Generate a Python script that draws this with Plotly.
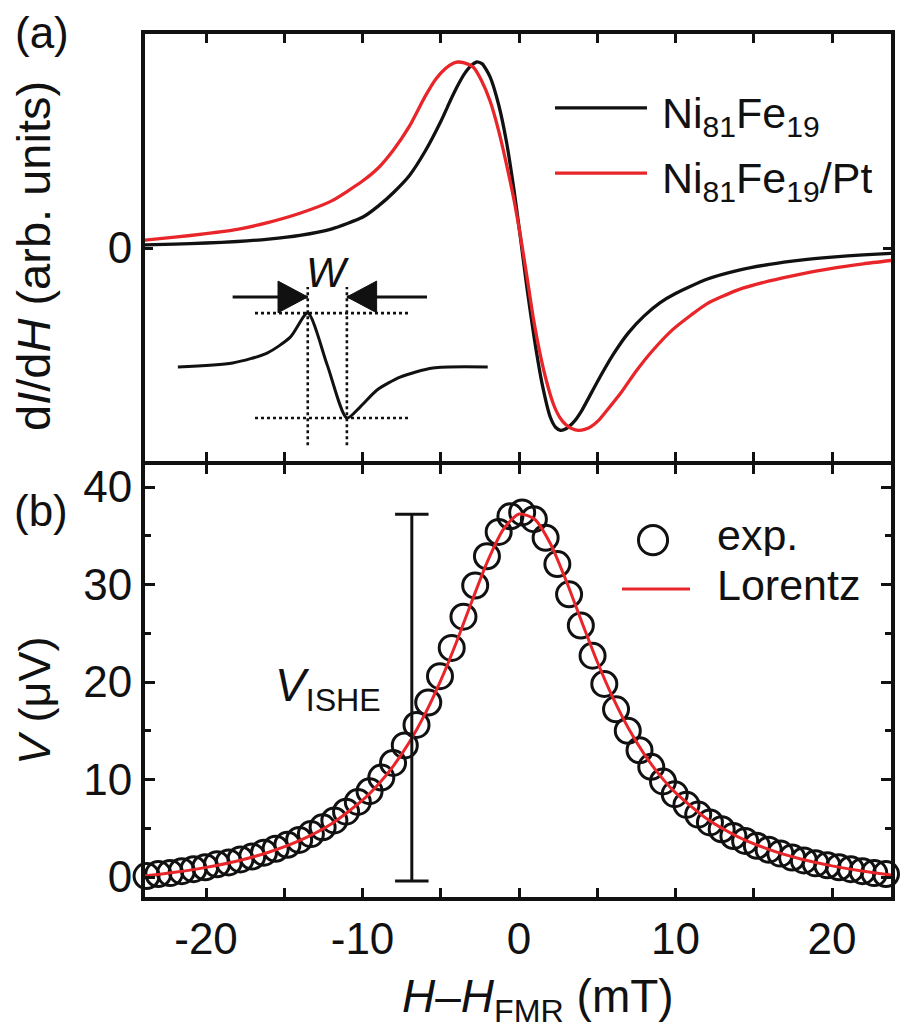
import plotly.graph_objects as go

# ---------------- data ----------------
# (a) FMR derivative spectra: field offset (mT) vs dI/dH (arb. units, peak = 1)
nife_h = [-24, -22, -20, -18, -16, -14, -12, -10, -9, -8, -7, -6, -5, -4.4, -4, -3.5,
          -3.0, -2.7, -2.35, -1.85, -1.3, -0.8, -0.3, 0.1, 0.5, 1.0, 1.5, 2.0, 2.35, 2.65,
          3.0, 3.5, 4.0, 5.0, 6.0, 7.0, 8.0, 9.0, 10.0, 12.0, 14.0, 16.0, 18.0, 20.0, 22.0, 24.0]
nife_di = [0.017, 0.021, 0.027, 0.035, 0.048, 0.068, 0.102, 0.165, 0.225, 0.30, 0.39, 0.52,
           0.68, 0.79, 0.86, 0.935, 0.985, 1.0, 0.99, 0.92, 0.77, 0.57, 0.30, 0.05, -0.21,
           -0.50, -0.74, -0.91, -0.965, -0.98, -0.972, -0.935, -0.875, -0.72, -0.575, -0.455,
           -0.365, -0.295, -0.245, -0.168, -0.12, -0.088, -0.065, -0.049, -0.037, -0.028]

nifept_h = [-24, -22, -20, -18, -16, -14, -12, -10, -9, -8, -7, -6, -5.3, -4.7, -4.2, -3.9,
            -3.5, -2.9, -2.4, -1.85, -1.3, -0.76, -0.3, 0.1, 0.5, 0.9, 1.35, 1.8, 2.2, 2.6,
            3.0, 3.4, 3.8, 4.2, 4.6, 5.1, 5.6, 6.5, 7.5, 8.5, 9.8, 11.0, 12.0, 14.0, 16.0,
            18.0, 20.0, 22.0, 24.0]
nifept_di = [0.042, 0.058, 0.077, 0.10, 0.138, 0.187, 0.252, 0.36, 0.43, 0.53, 0.655, 0.815,
             0.91, 0.965, 0.993, 1.0, 0.995, 0.97, 0.90, 0.79, 0.63, 0.435, 0.25, 0.06, -0.15,
             -0.37, -0.57, -0.73, -0.84, -0.91, -0.95, -0.972, -0.98, -0.975, -0.96, -0.925,
             -0.875, -0.78, -0.66, -0.555, -0.44, -0.36, -0.30, -0.225, -0.177, -0.14, -0.109,
             -0.085, -0.065]

# schematic line shape drawn inside panel (a)
sketch_h = [-21.8, -18.3, -16.1, -14.6, -13.5, -12.25, -11.0, -10.16, -9.07, -7.6, -5.5, -2.0]
sketch_di = [-0.64, -0.618, -0.565, -0.478, -0.35, -0.63, -0.914, -0.855, -0.763, -0.694,
             -0.645, -0.64]

# (b) ISHE voltage: measured points and Lorentz fit (µV)
exp_h = [-23.8, -23.05, -22.3, -21.55, -20.8, -20.05, -19.3, -18.55, -17.8, -17.05, -16.3,
         -15.55, -14.8, -14.05, -13.3, -12.55, -11.8, -11.05, -10.3, -9.55, -8.8, -8.05,
         -7.3, -6.55, -5.8, -5.05, -4.3, -3.55, -2.8, -2.05, -1.3, -0.55, 0.2, 0.95, 1.7,
         2.45, 3.2, 3.95, 4.7, 5.45, 6.2, 6.95, 7.7, 8.45, 9.2, 9.95, 10.7, 11.45, 12.2,
         12.95, 13.7, 14.45, 15.2, 15.95, 16.7, 17.45, 18.2, 18.95, 19.7, 20.45, 21.2,
         21.95, 22.7, 23.45, 24.2]
exp_v = [0.1, 0.3, 0.4, 0.6, 0.8, 1.0, 1.3, 1.5, 1.8, 2.1, 2.5,
         2.9, 3.3, 3.8, 4.4, 5.1, 5.8, 6.7, 7.7, 8.8, 10.2, 11.7,
         13.5, 15.6, 17.9, 20.6, 23.5, 26.7, 29.9, 32.9, 35.4, 37.0, 37.4, 36.7, 34.8,
         32.1, 29.0, 25.8, 22.7, 19.8, 17.2, 15.0, 13.0, 11.3, 9.8, 8.5, 7.4, 6.4, 5.6,
         4.9, 4.2, 3.7, 3.2, 2.8, 2.4, 2.0, 1.7, 1.4, 1.2, 1.0, 0.8,
         0.6, 0.4, 0.3, 0.1]

fit_h = [-24, -22, -20, -18, -16, -14, -12, -10, -9, -8, -7, -6, -5, -4, -3, -2, -1,
         0, 1, 2, 3, 4, 5, 6, 7, 8, 9, 10, 12, 14, 16, 18, 20, 22, 24]
fit_v = [0.08, 0.48, 0.99, 1.65, 2.54, 3.75, 5.44, 7.88, 9.49, 11.46, 13.85, 16.73, 20.16,
         24.08, 28.34, 32.43, 35.66, 37.23, 36.69, 34.21, 30.44, 26.21, 22.08, 18.39, 15.23,
         12.60, 10.43, 8.65, 5.97, 4.12, 2.81, 1.85, 1.14, 0.59, 0.17]

# V_ISHE bar: field position, base and top (µV), half cap width (mT)
ishe_h = -6.85
ishe_lo, ishe_hi = -0.4, 37.2
ishe_cap = 1.07

X_RANGE = [-23.9, 23.77]
TOP_RANGE = [-1.145, 1.1505]
BOT_RANGE = [-2.05, 42.26]
X_TICKS = [-20, -10, 0, 10, 20]
X_TICKTEXT = ["-20", "-10", "0", "10", "20"]

FONT = "Liberation Sans, Arial, sans-serif"
INK = "#111111"
RED = "#e8262a"
FS = 44

fig = go.Figure()

# panel (a)
fig.add_trace(go.Scatter(x=nife_h, y=nife_di, mode="lines",
                         line=dict(color=INK, width=3.3, shape="spline", smoothing=0.6),
                         xaxis="x", yaxis="y", showlegend=False))
fig.add_trace(go.Scatter(x=nifept_h, y=nifept_di, mode="lines",
                         line=dict(color=RED, width=3.3, shape="spline", smoothing=0.6),
                         xaxis="x", yaxis="y", showlegend=False))
fig.add_trace(go.Scatter(x=sketch_h, y=sketch_di, mode="lines",
                         line=dict(color=INK, width=3, shape="spline", smoothing=0.7),
                         xaxis="x", yaxis="y", showlegend=False))

# panel (b)
fig.add_trace(go.Scatter(x=exp_h, y=exp_v, mode="markers", cliponaxis=False,
                         marker=dict(symbol="circle-open", size=25, color=INK, line=dict(width=3, color=INK)),
                         xaxis="x2", yaxis="y2", showlegend=False))
fig.add_trace(go.Scatter(x=fit_h, y=fit_v, mode="lines",
                         line=dict(color=RED, width=3, shape="spline", smoothing=0.7),
                         xaxis="x2", yaxis="y2", showlegend=False))

# V_ISHE bar with caps
fig.add_trace(go.Scatter(x=[ishe_h, ishe_h], y=[ishe_lo, ishe_hi], mode="lines",
                         line=dict(color=INK, width=3), xaxis="x2", yaxis="y2", showlegend=False))
for v in (ishe_lo, ishe_hi):
    fig.add_trace(go.Scatter(x=[ishe_h - ishe_cap, ishe_h + ishe_cap], y=[v, v], mode="lines",
                             line=dict(color=INK, width=3), xaxis="x2", yaxis="y2", showlegend=False))

# schematic guides: dotted lines through the sketch's extremes, width arrows
i_pk = sketch_di.index(max(sketch_di))
i_mn = sketch_di.index(min(sketch_di))
pk_h, pk_v = sketch_h[i_pk], sketch_di[i_pk]
mn_h, mn_v = sketch_h[i_mn], sketch_di[i_mn]
shapes = []
dot = dict(color=INK, width=2.6, dash="dot")
for yv in (pk_v, mn_v):
    shapes.append(dict(type="line", xref="x", yref="y", x0=-16.87, x1=-7.09, y0=yv, y1=yv, line=dot))
for xv in (pk_h, mn_h):
    shapes.append(dict(type="line", xref="x", yref="y", x0=xv, x1=xv, y0=-1.06, y1=-0.21, line=dot))
arrow_y = -0.263
shapes.append(dict(type="line", xref="x", yref="y", x0=-18.3, x1=pk_h, y0=arrow_y, y1=arrow_y,
                   line=dict(color=INK, width=3)))
shapes.append(dict(type="line", xref="x", yref="y", x0=mn_h, x1=-5.88, y0=arrow_y, y1=arrow_y,
                   line=dict(color=INK, width=3)))
head_len, head_half = 1.9, 0.085
shapes.append(dict(type="path", xref="x", yref="y",
                   path=f"M {pk_h-head_len} {arrow_y+head_half} L {pk_h} {arrow_y} L {pk_h-head_len} {arrow_y-head_half} Z",
                   fillcolor=INK, line=dict(color=INK, width=1)))
shapes.append(dict(type="path", xref="x", yref="y",
                   path=f"M {mn_h+head_len} {arrow_y+head_half} L {mn_h} {arrow_y} L {mn_h+head_len} {arrow_y-head_half} Z",
                   fillcolor=INK, line=dict(color=INK, width=1)))

# legend keys, panel (a)
shapes.append(dict(type="line", xref="paper", yref="paper", x0=0.5496, x1=0.6729, y0=0.9143, y1=0.9143,
                   line=dict(color=INK, width=3.3)))
shapes.append(dict(type="line", xref="paper", yref="paper", x0=0.5496, x1=0.6729, y0=0.8389, y1=0.8389,
                   line=dict(color=RED, width=3.3)))
# legend keys, panel (b)
shapes.append(dict(type="circle", xref="paper", yref="paper", x0=0.681 - 0.0195, x1=0.681 + 0.0195,
                   y0=0.4135 - 0.0169, y1=0.4135 + 0.0169, line=dict(color=INK, width=3)))
shapes.append(dict(type="line", xref="paper", yref="paper", x0=0.6394, x1=0.7306, y0=0.3569, y1=0.3569,
                   line=dict(color=RED, width=3)))


def txt(text, x, y, size, xref="paper", yref="paper", xanchor="left", yanchor="middle", angle=0, height=None):
    d = dict(text=text, x=x, y=y, xref=xref, yref=yref, xanchor=xanchor, yanchor=yanchor,
             textangle=angle, showarrow=False, font=dict(size=size, color=INK, family=FONT))
    if height is not None:
        d["height"] = height
        d["valign"] = "middle"
    return d


annotations = [
    txt("Ni<sub>81</sub>Fe<sub>19</sub>", 0.6903, 0.905, 43, height=56),
    txt("Ni<sub>81</sub>Fe<sub>19</sub>/Pt", 0.6903, 0.830, 43, height=56),
    txt("exp.", 0.7641, 0.4195, 43, height=42),
    txt("Lorentz", 0.7641, 0.3615, 43, height=42),
    txt("<i>W</i>", (pk_h + mn_h) / 2, -0.129, 42, xref="x", yref="y", xanchor="center"),
    txt("<i>V</i><sub>ISHE</sub>", -8.69, 19.3, 46, xref="x2", yref="y2", xanchor="right"),
    txt("(a)", -0.138, 1.0012, 44, xanchor="center"),
    txt("(b)", -0.1394, 0.4484, 44, xanchor="center"),
    # axis titles
    txt("d<i>I</i>/d<i>H</i> (arb. units)", -0.1488, 0.7428, 47, xanchor="center", angle=-90),
    txt("<i>V</i> (\u03bcV)", -0.1488, 0.2271, 45, xanchor="center", angle=-90),
    txt("<i>H</i>\u2013<i>H</i><sub>FMR</sub> (mT)", 0.5268, -0.1193, 46, xanchor="center"),
]

axis_common = dict(showline=True, linecolor=INK, linewidth=4, mirror="ticks", ticks="inside",
                   tickcolor=INK, tickwidth=3, showgrid=False, zeroline=False,
                   tickfont=dict(size=FS, color=INK, family=FONT))

fig.update_layout(
    width=909, height=1029,
    margin=dict(l=145, r=18, t=34, b=132),
    paper_bgcolor="white", plot_bgcolor="white",
    showlegend=False,
    shapes=shapes, annotations=annotations,
    xaxis=dict(**axis_common, domain=[0, 1], anchor="y", range=X_RANGE, dtick=5, ticklen=9,
               showticklabels=False),
    yaxis=dict(**axis_common, domain=[0.50522, 1], anchor="x", range=TOP_RANGE,
               tickvals=[0], ticktext=["0"], ticklen=8),
    xaxis2=dict(**axis_common, domain=[0, 1], anchor="y2", range=X_RANGE,
                tickvals=X_TICKS, ticktext=X_TICKTEXT, ticklen=9,
                minor=dict(tickvals=[-15, -5, 5, 15], ticks="inside", ticklen=9, tickcolor=INK, tickwidth=3)),
    yaxis2=dict(**axis_common, domain=[0, 0.50058], anchor="x2", range=BOT_RANGE, dtick=10, ticklen=10,
                minor=dict(dtick=5, ticks="inside", ticklen=6, tickcolor=INK, tickwidth=3)),
)

fig.write_html("out.html")
